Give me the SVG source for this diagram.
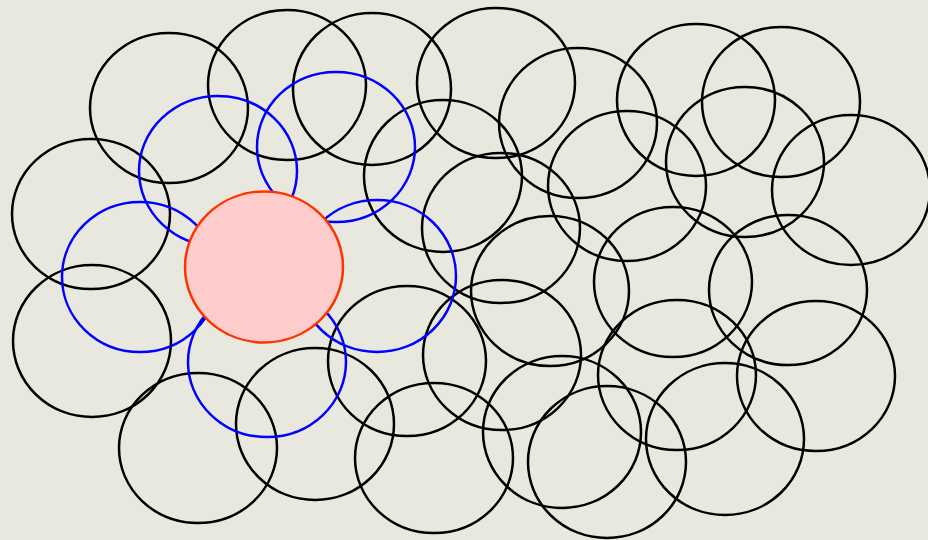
<svg xmlns="http://www.w3.org/2000/svg" width="928" height="540" viewBox="0 0 928 540">
<style>
.b{fill:none;stroke:#000;stroke-width:2.5}
.u{fill:none;stroke:#0000ff;stroke-width:2.5}
.r{fill:#ffcccc;stroke:#ff3300;stroke-width:2.5}
</style>
<rect width="928" height="540" fill="#e8e8de"/>
<g id="nodes">
<g id="n1"><ellipse class="b" cx="169" cy="108" rx="79" ry="75"/></g>
<g id="n2"><ellipse class="b" cx="287" cy="85" rx="79" ry="75"/></g>
<g id="n3"><ellipse class="b" cx="372" cy="89" rx="79" ry="76"/></g>
<g id="n4"><ellipse class="b" cx="496" cy="83" rx="79" ry="75"/></g>
<g id="n5"><ellipse class="b" cx="578" cy="123" rx="79" ry="75"/></g>
<g id="n6"><ellipse class="b" cx="696" cy="100" rx="79" ry="76"/></g>
<g id="n7"><ellipse class="b" cx="781" cy="102" rx="79" ry="75"/></g>
<g id="n8"><ellipse class="b" cx="91" cy="214" rx="79" ry="75"/></g>
<g id="n9"><ellipse class="b" cx="443" cy="176" rx="79" ry="76"/></g>
<g id="n10"><ellipse class="b" cx="501" cy="228" rx="79" ry="75"/></g>
<g id="n11"><ellipse class="b" cx="627" cy="186" rx="79" ry="75"/></g>
<g id="n12"><ellipse class="b" cx="745" cy="162" rx="79" ry="75"/></g>
<g id="n13"><ellipse class="b" cx="851" cy="190" rx="79" ry="75"/></g>
<g id="n14"><ellipse class="b" cx="92" cy="341" rx="79" ry="76"/></g>
<g id="n15"><ellipse class="b" cx="550" cy="291" rx="79" ry="75"/></g>
<g id="n16"><ellipse class="b" cx="673" cy="282" rx="79" ry="75"/></g>
<g id="n17"><ellipse class="b" cx="788" cy="290" rx="79" ry="75"/></g>
<g id="n18"><ellipse class="b" cx="407" cy="361" rx="79" ry="75"/></g>
<g id="n19"><ellipse class="b" cx="502" cy="355" rx="79" ry="75"/></g>
<g id="n20"><ellipse class="b" cx="677" cy="375" rx="79" ry="75"/></g>
<g id="n21"><ellipse class="b" cx="816" cy="376" rx="79" ry="75"/></g>
<g id="n22"><ellipse class="b" cx="198" cy="448" rx="79" ry="75"/></g>
<g id="n23"><ellipse class="b" cx="315" cy="424" rx="79" ry="76"/></g>
<g id="n24"><ellipse class="b" cx="434" cy="458" rx="79" ry="75"/></g>
<g id="n25"><ellipse class="b" cx="562" cy="432" rx="79" ry="76"/></g>
<g id="n26"><ellipse class="b" cx="607" cy="462" rx="79" ry="76"/></g>
<g id="n27"><ellipse class="b" cx="725" cy="439" rx="79" ry="76"/></g>
<g id="u1"><ellipse class="u" cx="218" cy="171" rx="79" ry="75"/></g>
<g id="u2"><ellipse class="u" cx="336" cy="147" rx="79" ry="75"/></g>
<g id="u3"><ellipse class="u" cx="140" cy="277" rx="78" ry="75"/></g>
<g id="u4"><ellipse class="u" cx="377" cy="276" rx="79" ry="76"/></g>
<g id="u5"><ellipse class="u" cx="267" cy="362" rx="79" ry="75"/></g>
<g id="center"><ellipse class="r" cx="264" cy="267" rx="79" ry="75.5"/></g>
</g>
<g id="connectors"></g>
</svg>
